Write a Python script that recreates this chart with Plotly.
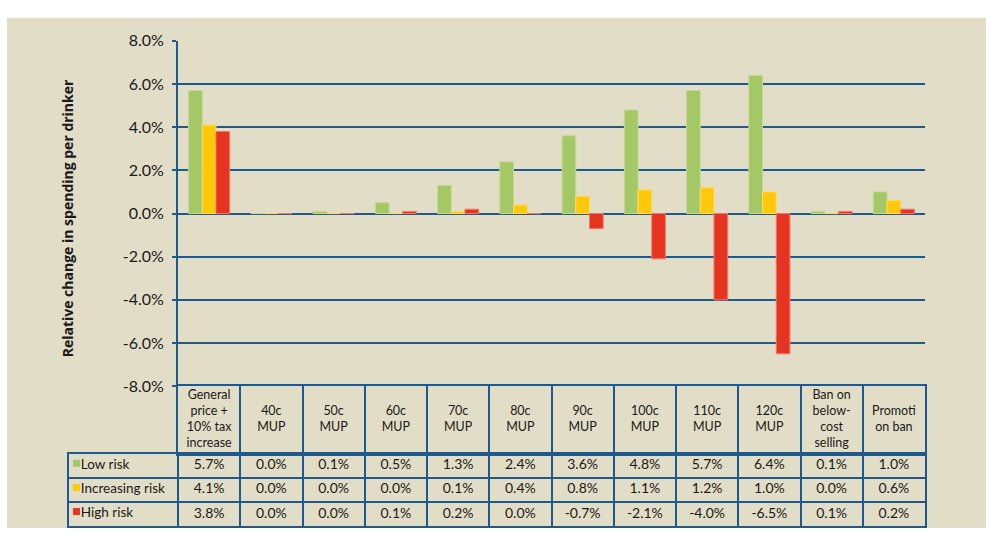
import plotly.graph_objects as go

categories = ["General price + 10% tax increase", "40c MUP", "50c MUP", "60c MUP", "70c MUP",
              "80c MUP", "90c MUP", "100c MUP", "110c MUP", "120c MUP",
              "Ban on below-cost selling", "Promotion ban"]
header_labels = ["General<br>price +<br>10% tax<br>increase", "40c<br>MUP", "50c<br>MUP",
                 "60c<br>MUP", "70c<br>MUP", "80c<br>MUP", "90c<br>MUP",
                 "100c<br>MUP", "110c<br>MUP", "120c<br>MUP",
                 "Ban on<br>below-<br>cost<br>selling", "Promoti<br>on ban"]
series_names = ["Low risk", "Increasing risk", "High risk"]
low_risk = [5.7, 0.0, 0.1, 0.5, 1.3, 2.4, 3.6, 4.8, 5.7, 6.4, 0.1, 1.0]
increasing_risk = [4.1, 0.0, 0.0, 0.0, 0.1, 0.4, 0.8, 1.1, 1.2, 1.0, 0.0, 0.6]
high_risk = [3.8, 0.0, 0.0, 0.1, 0.2, 0.0, -0.7, -2.1, -4.0, -6.5, 0.1, 0.2]
y_ticks = [-8, -6, -4, -2, 0, 2, 4, 6, 8]

series = [low_risk, increasing_risk, high_risk]
fills = ["#A4C865", "#FFC90A", "#E5341F"]
edges = ["#C3DA93", "#FFDA6A", "#F07A6A"]

BG = "#E2DDC6"
BLUE = "#1F5A8E"
TXT = "#1a1a1a"
FONT = "Lato"
W, H = 986, 537

def px(x):
    return x / W

def py(y):
    return (H - y) / H

n = len(categories)
idx = list(range(n))
colw = (925 - 178) / n               # width of one category column in pixels
label_w = (178 - 69) / colw          # legend column width in category units
x_left = -0.5 - label_w

fig = go.Figure()
for name, vals, fc, ec in zip(series_names, series, fills, edges):
    fig.add_trace(go.Bar(x=categories, y=vals, name=name,
                         marker=dict(color=fc, line=dict(color=ec, width=1)),
                         showlegend=False, hoverinfo="skip"))

# ---- data table: header (category names) ----
fig.add_trace(go.Scatter(x=idx, y=[0.5] * n, mode="text", text=header_labels,
                         textposition="middle center",
                         textfont=dict(family=FONT, size=12.5, color=TXT),
                         xaxis="x3", yaxis="y3", showlegend=False, hoverinfo="skip"))

# ---- data table: value rows ----
for r, vals in enumerate(series):
    fig.add_trace(go.Scatter(x=idx, y=[r + 0.5] * n, mode="text",
                             text=[f"{v:.1f}%" for v in vals], textposition="middle center",
                             textfont=dict(family=FONT, size=14, color=TXT),
                             xaxis="x4", yaxis="y4", showlegend=False, hoverinfo="skip"))
# legend keys + labels in first column
fig.add_trace(go.Scatter(x=[x_left + 0.12] * 3, y=[r + 0.4 for r in range(3)], mode="markers",
                         marker=dict(symbol="square", size=7, color=fills, line=dict(width=0)),
                         xaxis="x4", yaxis="y4", showlegend=False, hoverinfo="skip"))
fig.add_trace(go.Scatter(x=[x_left + 0.19] * 3, y=[r + 0.5 for r in range(3)], mode="text",
                         text=series_names, textposition="middle right",
                         textfont=dict(family=FONT, size=13.5, color=TXT),
                         xaxis="x4", yaxis="y4", showlegend=False, hoverinfo="skip"))

grid = dict(showgrid=True, gridcolor=BLUE, gridwidth=2, zeroline=False, showticklabels=False,
            ticks="", showline=True, linecolor=BLUE, linewidth=2, mirror=True, fixedrange=True)

fig.update_layout(
    width=W, height=H,
    margin=dict(l=0, r=0, t=0, b=0, pad=0),
    paper_bgcolor="white", plot_bgcolor=BG,
    barmode="group", bargap=0.34, bargroupgap=0,
    font=dict(family=FONT, color=TXT),
    xaxis=dict(domain=[px(178), px(925)], range=[-0.5, n - 0.5], showticklabels=False,
               showgrid=False, zeroline=False, showline=False, ticks="", fixedrange=True),
    yaxis=dict(domain=[py(390), py(32)], range=[-8, 8], tickvals=y_ticks,
               ticktext=[f"{v:.1f}%" for v in y_ticks],
               showgrid=True, gridcolor=BLUE, gridwidth=2,
               zeroline=True, zerolinecolor=BLUE, zerolinewidth=2,
               showline=True, linecolor=BLUE, linewidth=2,
               ticks="outside", ticklen=4, tickcolor=BLUE, tickwidth=2,
               ticklabelstandoff=5, fixedrange=True,
               tickfont=dict(family=FONT, size=16, color=TXT)),
    xaxis3=dict(grid, domain=[px(178), px(925)], range=[-0.5, n - 0.5],
                tickvals=[i + 0.5 for i in idx[:-1]], anchor="y3"),
    yaxis3=dict(grid, domain=[py(460), py(390)], range=[0, 1], showgrid=False, anchor="x3"),
    xaxis4=dict(grid, domain=[px(69), px(925)], range=[x_left, n - 0.5],
                tickvals=[i - 0.5 for i in idx], anchor="y4"),
    yaxis4=dict(grid, domain=[py(535), py(460)], range=[3, 0], tickvals=[1, 2], anchor="x4"),
    shapes=[dict(type="rect", xref="paper", yref="paper", x0=px(7), x1=1, y0=0, y1=py(8),
                 fillcolor=BG, line=dict(width=0), layer="below")],
    annotations=[dict(text="<b>Relative change in spending per drinker</b>", textangle=-90,
                      xref="paper", yref="paper", x=px(67), y=py(216), showarrow=False,
                      xanchor="center", yanchor="middle",
                      font=dict(family="Open Sans", size=14, color=TXT))],
)

fig.write_html("out.html", post_script="document.body.style.margin='0';",
               config={"displayModeBar": False})
